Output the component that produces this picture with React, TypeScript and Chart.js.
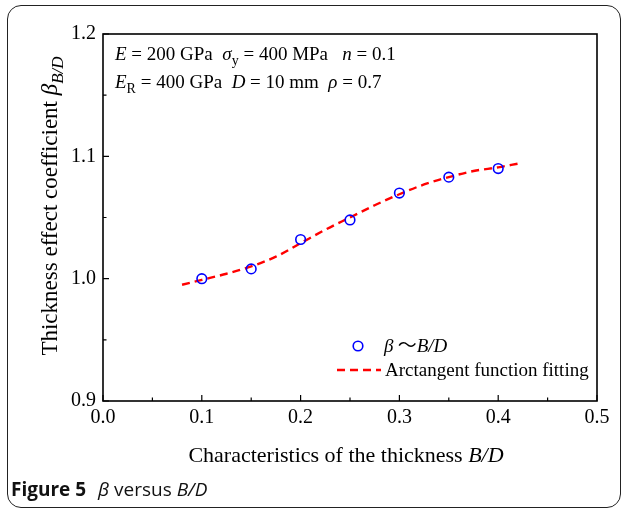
import React, { useEffect, useRef } from "react";
import { Chart, registerables } from "chart.js";

Chart.register(...registerables);

// ---- data ----
const measuredX = [0.1, 0.15, 0.2, 0.25, 0.3, 0.35, 0.4];
const measuredBeta = [1.0, 1.008, 1.032, 1.048, 1.07, 1.083, 1.09];
const fitX = [0.08, 0.1, 0.125, 0.15, 0.175, 0.2, 0.225, 0.25, 0.275, 0.3, 0.325, 0.35, 0.375, 0.4, 0.42];
const fitBeta = [0.995, 0.999, 1.004, 1.01, 1.018, 1.029, 1.04, 1.05, 1.06, 1.069, 1.077, 1.083, 1.088, 1.091, 1.094];
const xMajorTicks = [0, 0.1, 0.2, 0.3, 0.4, 0.5];
const xMinorTicks = [0.05, 0.15, 0.25, 0.35, 0.45];
const yMajorTicks = [0.9, 1.0, 1.1, 1.2];
const yMinorTicks = [0.95, 1.05, 1.15];

const SERIF = '"Liberation Serif", "Times New Roman", serif';

type Seg = { t: string; i?: boolean; sub?: boolean; f?: string };

function segFont(s: Seg, size: number) {
  const sz = s.sub ? Math.round(size * 0.72) : size;
  return `${s.i ? "italic " : ""}${sz}px ${s.f || SERIF}`;
}
function measureSegs(ctx: CanvasRenderingContext2D, segs: Seg[], size: number) {
  let w = 0;
  for (const s of segs) {
    ctx.font = segFont(s, size);
    w += ctx.measureText(s.t).width;
  }
  return w;
}
function drawSegs(ctx: CanvasRenderingContext2D, x: number, y: number, segs: Seg[], size: number) {
  ctx.textAlign = "left";
  ctx.textBaseline = "alphabetic";
  for (const s of segs) {
    ctx.font = segFont(s, size);
    ctx.fillText(s.t, x, y + (s.sub ? size * 0.25 : 0));
    x += ctx.measureText(s.t).width;
  }
}

const annot1: Seg[] = [
  { t: "E", i: true }, { t: " = 200 GPa  " }, { t: "σ", i: true }, { t: "y", sub: true },
  { t: " = 400 MPa   " }, { t: "n", i: true }, { t: " = 0.1" },
];
const annot2: Seg[] = [
  { t: "E", i: true }, { t: "R", sub: true }, { t: " = 400 GPa  " }, { t: "D", i: true },
  { t: " = 10 mm  " }, { t: "ρ", i: true }, { t: " = 0.7" },
];
const yTitle: Seg[] = [{ t: "Thickness effect coefficient " }, { t: "β", i: true }, { t: "B/D", i: true, sub: true }];
const xTitle: Seg[] = [{ t: "Characteristics of the thickness " }, { t: "B/D", i: true }];
const legend1: Seg[] = [{ t: "β", i: true }, { t: " ～", f: '"Noto Sans CJK SC"' }, { t: "B/D", i: true }];
const legend2: Seg[] = [{ t: "Arctangent function fitting" }];

const decorPlugin = {
  id: "decor",
  afterDatasetsDraw(chart: any) {
    const ctx: CanvasRenderingContext2D = chart.ctx;
    const { left, right, top, bottom } = chart.chartArea;
    const xs = chart.scales.x;
    const ys = chart.scales.y;
    ctx.save();
    ctx.strokeStyle = "#000";
    ctx.lineWidth = 1.6;
    ctx.strokeRect(left, top, right - left, bottom - top);
    ctx.lineWidth = 1.2;
    ctx.beginPath();
    for (const v of xMajorTicks) {
      const p = xs.getPixelForValue(v);
      ctx.moveTo(p, bottom);
      ctx.lineTo(p, bottom - 6);
    }
    for (const v of xMinorTicks) {
      const p = xs.getPixelForValue(v);
      ctx.moveTo(p, bottom);
      ctx.lineTo(p, bottom - 3.5);
    }
    for (const v of yMajorTicks) {
      const p = ys.getPixelForValue(v);
      ctx.moveTo(left, p);
      ctx.lineTo(left + 6, p);
    }
    for (const v of yMinorTicks) {
      const p = ys.getPixelForValue(v);
      ctx.moveTo(left, p);
      ctx.lineTo(left + 3.5, p);
    }
    ctx.stroke();

    ctx.fillStyle = "#000";
    // annotations
    drawSegs(ctx, left + 12, top + 26, annot1, 19);
    drawSegs(ctx, left + 12, top + 54, annot2, 19);

    // legend
    ctx.strokeStyle = "#0000ff";
    ctx.lineWidth = 1.6;
    ctx.beginPath();
    ctx.arc(358, 346, 4.8, 0, Math.PI * 2);
    ctx.stroke();
    ctx.fillStyle = "#000";
    drawSegs(ctx, 384, 352, legend1, 19);
    ctx.strokeStyle = "#ff0000";
    ctx.lineWidth = 2.4;
    ctx.setLineDash([8, 5]);
    ctx.beginPath();
    ctx.moveTo(337, 370);
    ctx.lineTo(381, 370);
    ctx.stroke();
    ctx.setLineDash([]);
    drawSegs(ctx, 385, 376, legend2, 19);

    // axis titles
    const xw = measureSegs(ctx, xTitle, 22);
    drawSegs(ctx, 346 - xw / 2, 462, xTitle, 22);
    const yw = measureSegs(ctx, yTitle, 23);
    ctx.translate(57, 206);
    ctx.rotate(-Math.PI / 2);
    drawSegs(ctx, -yw / 2, 0, yTitle, 23);
    ctx.restore();
  },
};

export default function App() {
  const ref = useRef<HTMLCanvasElement | null>(null);
  useEffect(() => {
    if (!ref.current) return;
    const chart = new Chart(ref.current, {
      type: "scatter",
      data: {
        datasets: [
          {
            label: "β～B/D",
            data: measuredX.map((x, i) => ({ x, y: measuredBeta[i] })),
            showLine: false,
            pointStyle: "circle",
            pointRadius: 4.8,
            pointBorderWidth: 1.6,
            pointBorderColor: "#0000ff",
            pointBackgroundColor: "rgba(0,0,0,0)",
            order: 0,
          },
          {
            label: "Arctangent function fitting",
            data: fitX.map((x, i) => ({ x, y: fitBeta[i] })),
            showLine: true,
            borderColor: "#ff0000",
            borderWidth: 2.4,
            borderDash: [8, 5],
            pointRadius: 0,
            cubicInterpolationMode: "monotone",
            order: 1,
          } as any,
        ],
      },
      options: {
        responsive: false,
        animation: false,
        layout: { padding: { top: 34, right: 28, left: 0, bottom: 0 } },
        plugins: { legend: { display: false }, tooltip: { enabled: false } },
        scales: {
          x: {
            type: "linear",
            min: 0,
            max: 0.5,
            afterBuildTicks: (s: any) => {
              s.ticks = xMajorTicks.map((v) => ({ value: v }));
            },
            ticks: {
              callback: (v: any) => Number(v).toFixed(1),
              font: { family: SERIF, size: 20 },
              color: "#000",
              padding: 5,
              maxRotation: 0,
            },
            grid: { display: false, drawTicks: false },
            border: { display: false },
            afterFit: (s: any) => {
              s.height = 109;
            },
          },
          y: {
            type: "linear",
            min: 0.9,
            max: 1.2,
            afterBuildTicks: (s: any) => {
              s.ticks = yMajorTicks.map((v) => ({ value: v }));
            },
            ticks: {
              callback: (v: any) => Number(v).toFixed(1),
              font: { family: SERIF, size: 20 },
              color: "#000",
              padding: 7,
            },
            grid: { display: false, drawTicks: false },
            border: { display: false },
            afterFit: (s: any) => {
              s.width = 103;
            },
          },
        },
      },
      plugins: [decorPlugin],
    });
    return () => chart.destroy();
  }, []);

  return (
    <div style={{ position: "absolute", left: 0, top: 0, width: 625, height: 510, background: "#fff", overflow: "hidden" }}>
      <div
        style={{
          position: "absolute",
          left: 7,
          top: 5,
          width: 614,
          height: 503,
          border: "1px solid #222",
          borderRadius: 14,
          boxSizing: "border-box",
        }}
      />
      <canvas ref={ref} width={625} height={510} style={{ position: "absolute", left: 0, top: 0, display: "block" }} />
      <div
        style={{
          position: "absolute",
          left: 11,
          top: 477,
          fontFamily: '"Open Sans", "Noto Sans", sans-serif',
          fontSize: 19,
          color: "#111",
          whiteSpace: "nowrap",
          lineHeight: "24px",
        }}
      >
        <span style={{ fontWeight: 700 }}>Figure 5</span>
        <span style={{ marginLeft: 12 }}>
          <i>β</i> versus <i>B/D</i>
        </span>
      </div>
    </div>
  );
}
